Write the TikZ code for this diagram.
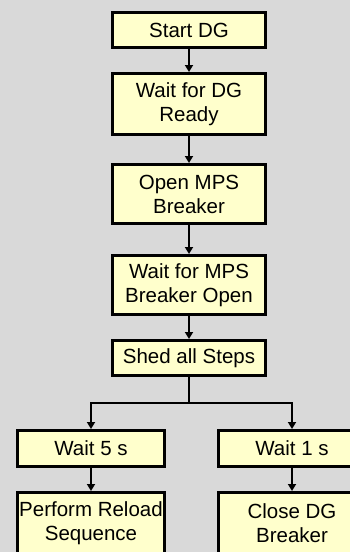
\documentclass[tikz,border=0pt]{standalone}
\usepackage{fontspec}
\setmainfont{Liberation Sans}
\usetikzlibrary{arrows.meta}
\definecolor{bg}{RGB}{217,217,217}
\definecolor{boxfill}{RGB}{255,255,204}
\begin{document}
\begin{tikzpicture}[x=1pt,y=-1pt,
  box/.style={draw=black, line width=2.6pt, fill=boxfill, align=center, inner sep=0pt,
    font=\fontsize{20.5}{24}\selectfont, text=black},
  wide/.style={minimum width=153.4pt},
  narrow/.style={minimum width=147.4pt},
  flow/.style={line width=2.6pt, -{Triangle[width=8pt,length=7pt]}}]
\path[use as bounding box, fill=bg] (0,0) rectangle (350,552);
\clip (0,0) rectangle (350,552);
\node[box, wide, minimum height=35.4pt] (b1) at (189,30) {Start DG};
\node[box, wide, minimum height=61.4pt] (b2) at (189,104) {Wait for DG\\Ready};
\node[box, wide, minimum height=59.4pt] (b3) at (189,194) {Open MPS\\Breaker};
\node[box, wide, minimum height=59.4pt] (b4) at (189,285) {Wait for MPS\\Breaker Open};
\node[box, wide, minimum height=35.4pt] (b5) at (189,358) {Shed all Steps};
\node[box, narrow, minimum height=36.4pt] (b6) at (91,448.5) {Wait 5 s};
\node[box, narrow, minimum height=36.4pt] (b7) at (292,448.5) {Wait 1 s};
\node[box, narrow, minimum height=61.4pt] (b8) at (91,523) {Perform Reload\\Sequence};
\node[box, narrow, minimum height=61.4pt] (b9) at (292,523) {Close DG\\Breaker};
\coordinate (split) at (189,403);
\draw[flow] (b1) -- (b2);
\draw[flow] (b2) -- (b3);
\draw[flow] (b3) -- (b4);
\draw[flow] (b4) -- (b5);
\draw[line width=2.6pt] (b5.south) -- (split);
\draw[flow] (split) -| (b6.north);
\draw[flow] (split) -| (b7.north);
\draw[flow] (b6) -- (b8);
\draw[flow] (b7) -- (b9);
\end{tikzpicture}
\end{document}
